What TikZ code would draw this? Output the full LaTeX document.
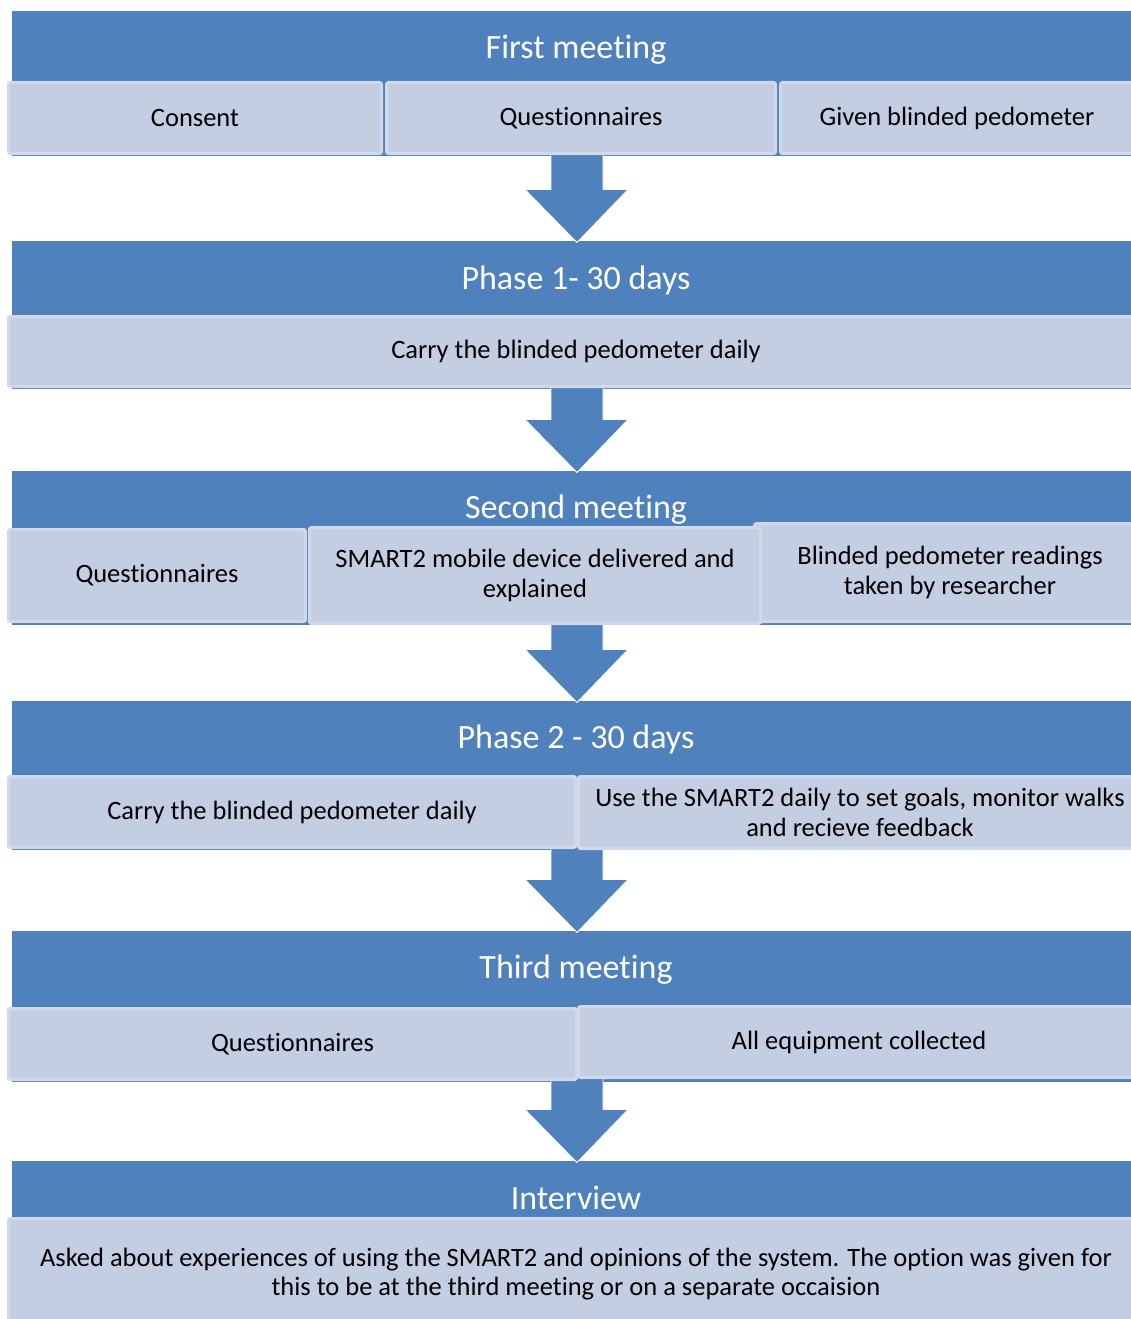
\documentclass[tikz,border=0pt]{standalone}
\usepackage{fontspec}
\setmainfont{Carlito}[Ligatures={NoCommon}]
\usetikzlibrary{calc}
\definecolor{bandblue}{HTML}{4F81BD}
\definecolor{boxfill}{HTML}{C3CEE3}
\definecolor{boxedge}{HTML}{D1D9E9}

% a node given by its outer corners: style, name, x1, y1, x2, y2, text
\newcommand\cornernode[7]{%
  \node[#1, minimum width={#5-#3-3}, minimum height={#6-#4-3}]
    (#2) at ({(#3+#5)/2},{(#4+#6)/2}) {#7};}
% block arrow from the bottom of one band to the top of the next
\newcommand\flowarrow[2]{%
  \filldraw[flow] let \p1=(#1.south), \p2=(#2.north) in
    (551pt,\y1+4pt) -- (603pt,\y1+4pt) -- (603pt,\y2+53pt) -- (628pt,\y2+53pt)
    -- (577pt,\y2) -- (525pt,\y2+53pt) -- (551pt,\y2+53pt) -- cycle;}

\begin{document}
\begin{tikzpicture}[x=1pt,y=-1pt,
  band/.style={fill=bandblue, draw=bandblue, line width=3pt, inner sep=0pt, outer sep=0pt},
  bandtext/.style={text=white, font=\fontsize{34}{40}\selectfont, inner sep=0pt,
    text height=0.64em, text depth=0pt},
  cell/.style={fill=boxfill, draw=boxedge, line width=3pt, rounded corners=2pt,
    inner sep=0pt, outer sep=0pt, align=center, text=black,
    font=\fontsize{26.5}{29.5}\selectfont},
  flow/.style={fill=bandblue, draw=white, line width=0.8pt, line join=miter}]

\useasboundingbox (0,0) rectangle (1131,1319);
\fill[white] (0,0) rectangle (1131,1319);

% header bands
\cornernode{band}{h1}{12}{11}{1145}{156}{}
\cornernode{band}{h2}{12}{241}{1145}{389}{}
\cornernode{band}{h3}{12}{471}{1145}{625}{}
\cornernode{band}{h4}{12}{701}{1145}{850}{}
\cornernode{band}{h5}{12}{931}{1145}{1082}{}
\cornernode{band}{h6}{12}{1161}{1145}{1330}{}

% arrows between stages
\flowarrow{h1}{h2}
\flowarrow{h2}{h3}
\flowarrow{h3}{h4}
\flowarrow{h4}{h5}
\flowarrow{h5}{h6}

% header titles
\node[bandtext] (t1) at (576,55) {First meeting};
\node[bandtext] (t2) at (576,286) {Phase 1- 30 days};
\node[bandtext] (t3) at (576,515) {Second meeting};
\node[bandtext] (t4) at (576,745) {Phase 2 - 30 days};
\node[bandtext] (t5) at (576,975) {Third meeting};
\node[bandtext] (t6) at (576,1206) {Interview};

% stage 1
\cornernode{cell}{consent}{7}{81}{383}{155}{Consent}
\cornernode{cell}{quest1}{385}{81}{777}{155}{Questionnaires}
\cornernode{cell}{pedo}{779}{81}{1135}{155}{Given blinded pedometer}

% stage 2
\cornernode{cell}{carry1}{7}{315}{1145}{388}{Carry the blinded pedometer daily}

% stage 3
\cornernode{cell}{readings}{753}{522}{1147}{623}{Blinded pedometer readings\\taken by researcher}
\cornernode{cell}{quest2}{7}{528}{307}{623}{Questionnaires}
\cornernode{cell}{smart}{308}{526}{762}{625}{SMART2 mobile device delivered and\\explained}

% stage 4
\cornernode{cell}{carry2}{7}{775}{577}{849}{Carry the blinded pedometer daily}
\cornernode{cell}{usesmart}{577}{775}{1143}{850}{Use the SMART2 daily to set goals, monitor walks\\and recieve feedback}

% stage 5
\cornernode{cell}{quest3}{7}{1007}{578}{1081}{Questionnaires}
\cornernode{cell}{collect}{577}{1005}{1141}{1079}{All equipment collected}

% stage 6
\cornernode{cell}{ask}{7}{1217}{1145}{1327}{}
\node[align=center, inner sep=0pt, font=\fontsize{26.5}{29.5}\selectfont] (asktext) at (576,1274)
  {Asked about experiences of using the SMART2 and opinions of the system. The option was given for\\
   this to be at the third meeting or on a separate occaision};
\end{tikzpicture}
\end{document}
